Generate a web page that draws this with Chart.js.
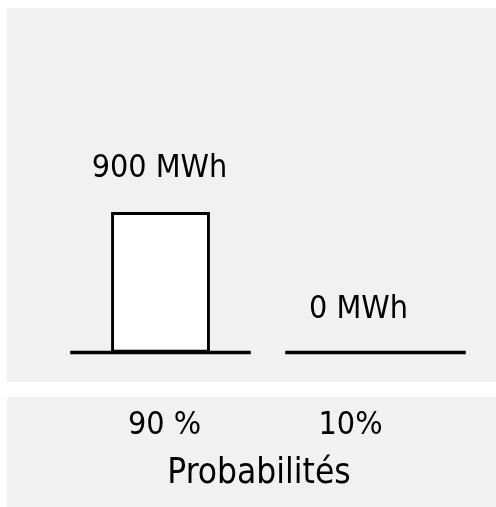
<!DOCTYPE html>
<html>
<head>
<meta charset="utf-8">
<title>Probabilités</title>
<script src="https://cdn.jsdelivr.net/npm/chart.js@4/dist/chart.umd.min.js"></script>
<style>
    body { margin: 0; background: #ffffff; }
    #wrap { width: 496px; height: 507px; }
</style>
</head>
<body>
<div id="wrap"><canvas id="energyChart" width="496" height="507"></canvas></div>
<script>
// data
const probabilities = ['90 %', '10%'];
const energyValues = [900, 0];
const unit = 'MWh';
const axisTitle = 'Probabilités';

document.addEventListener("DOMContentLoaded", function() {
    const FONT = "'DejaVu Sans Condensed', 'DejaVu Sans', sans-serif";

    // grey panels behind the plot and behind the labels
    const panels = {
        id: 'panels',
        beforeDraw(chart) {
            const ctx = chart.ctx;
            ctx.save();
            ctx.fillStyle = '#f1f1f1';
            ctx.fillRect(7, 8, 489, 374);
            ctx.fillRect(7, 397, 489, 110);
            ctx.restore();
        }
    };

    // a short floor line under every category, value labels and texts
    const decorations = {
        id: 'decorations',
        afterDatasetsDraw(chart, args, opts) {
            const ctx = chart.ctx;
            const xs = chart.scales.x;
            const ys = chart.scales.y;
            const half = xs.width / probabilities.length * 0.42;
            const y0 = ys.getPixelForValue(0);

            ctx.save();
            ctx.strokeStyle = '#000';
            ctx.lineWidth = 3.5;
            probabilities.forEach((p, i) => {
                const cx = xs.getPixelForValue(i);
                ctx.beginPath();
                ctx.moveTo(cx - half, y0);
                ctx.lineTo(cx + half, y0);
                ctx.stroke();
            });

            ctx.fillStyle = '#000';
            ctx.textAlign = 'center';
            ctx.textBaseline = 'alphabetic';

            // value labels above the bars
            ctx.font = '32px ' + FONT;
            energyValues.forEach((v, i) => {
                const cx = xs.getPixelForValue(i) + opts.valueShift[i];
                ctx.fillText(v + ' ' + unit, cx, ys.getPixelForValue(v) - 35);
            });

            // category labels in the lower panel
            ctx.font = '32px ' + FONT;
            probabilities.forEach((p, i) => {
                const cx = xs.getPixelForValue(i) + opts.labelShift[i];
                ctx.fillText(p, cx, 434);
            });

            ctx.font = '35px ' + FONT;
            ctx.fillText(axisTitle, (xs.left + xs.right) / 2 - 9, 483);
            ctx.restore();
        }
    };

    const ctx = document.getElementById('energyChart').getContext('2d');
    new Chart(ctx, {
        type: 'bar',
        data: {
            labels: probabilities,
            datasets: [{
                data: energyValues,
                backgroundColor: '#ffffff',
                borderColor: '#000000',
                borderWidth: 3,
                borderSkipped: false,
                categoryPercentage: 1,
                barPercentage: 0.46
            }]
        },
        options: {
            responsive: false,
            animation: false,
            layout: { padding: { left: 53, right: 13, top: 71.5, bottom: 154.5 } },
            scales: {
                x: { display: false },
                y: { display: false, min: 0, max: 1800 }
            },
            plugins: {
                legend: { display: false },
                tooltip: { enabled: false },
                decorations: { valueShift: [-1, -17], labelShift: [4, -25] }
            }
        },
        plugins: [panels, decorations]
    });
});
</script>
</body>
</html>
